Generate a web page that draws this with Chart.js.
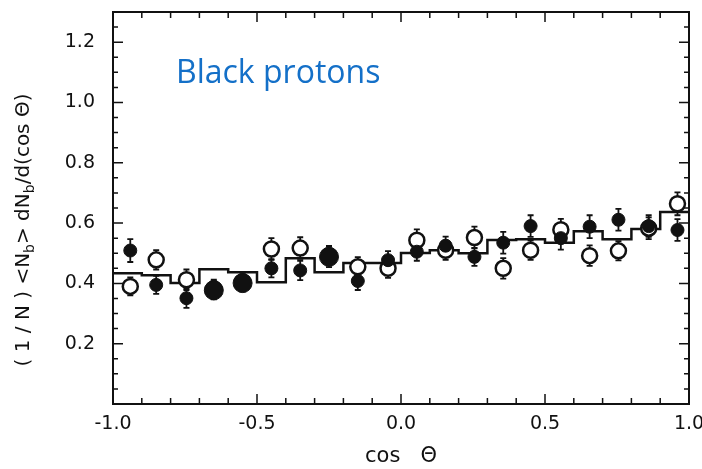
<!DOCTYPE html>
<html>
<head>
<meta charset="utf-8">
<script src="https://cdn.jsdelivr.net/npm/chart.js@4/dist/chart.umd.min.js"></script>
<style>
  html, body { margin: 0; padding: 0; background: #fff; }
  #wrap { width: 702px; height: 469px; }
</style>
</head>
<body>
<div id="wrap"><canvas id="chart" width="702" height="469"></canvas></div>
<script>
// ---- data ----
const cosTheta   = [-0.94, -0.85, -0.745, -0.65, -0.55, -0.45, -0.35, -0.25, -0.15, -0.045,
                     0.055, 0.155, 0.255, 0.355, 0.45, 0.555, 0.655, 0.755, 0.86, 0.96];
const filledVals = [0.509, 0.395, 0.351, 0.377, 0.401, 0.450, 0.443, 0.488, 0.408, 0.477,
                    0.505, 0.525, 0.488, 0.535, 0.590, 0.550, 0.588, 0.611, 0.590, 0.577];
const filledErr  = [0.038, 0.030, 0.032, 0.030, 0.028, 0.030, 0.032, 0.034, 0.030, 0.030,
                    0.030, 0.030, 0.030, 0.036, 0.036, 0.038, 0.038, 0.036, 0.036, 0.036];
const openVals   = [0.390, 0.478, 0.412, 0.382, 0.405, 0.514, 0.517, 0.492, 0.455, 0.450,
                    0.543, 0.510, 0.552, 0.450, 0.510, 0.578, 0.492, 0.508, 0.583, 0.664];
const openErr    = [0.030, 0.032, 0.034, 0.030, 0.030, 0.036, 0.036, 0.032, 0.032, 0.032,
                    0.036, 0.032, 0.036, 0.034, 0.032, 0.036, 0.034, 0.032, 0.036, 0.038];
const binEdges   = [-1.0, -0.9, -0.8, -0.7, -0.6, -0.5, -0.4, -0.3, -0.2, -0.1, 0.0,
                     0.1, 0.2, 0.3, 0.4, 0.5, 0.6, 0.7, 0.8, 0.9, 1.0];
const stepVals   = [0.434, 0.427, 0.401, 0.447, 0.437, 0.404, 0.483, 0.437, 0.468, 0.468,
                    0.501, 0.510, 0.500, 0.544, 0.546, 0.535, 0.573, 0.546, 0.580, 0.637];
const bigDots    = [3, 4, 7];   // points where filled and open markers overlap

const AXIS_FONT = '"DejaVu Sans", sans-serif';
const INK = '#111';

// error bars, frame, inward ticks and the rotated y title
const decor = {
    id: 'decor',
    beforeDatasetsDraw(chart) {
        const { ctx, scales: { x, y } } = chart;
        ctx.save();
        ctx.strokeStyle = INK;
        ctx.lineWidth = 1.8;
        const bars = (vals, errs) => vals.forEach((v, i) => {
            const px = x.getPixelForValue(cosTheta[i]);
            const lo = y.getPixelForValue(v - errs[i]);
            const hi = y.getPixelForValue(v + errs[i]);
            ctx.beginPath();
            ctx.moveTo(px, lo); ctx.lineTo(px, hi);
            ctx.moveTo(px - 3, lo); ctx.lineTo(px + 3, lo);
            ctx.moveTo(px - 3, hi); ctx.lineTo(px + 3, hi);
            ctx.stroke();
        });
        bars(openVals, openErr);
        bars(filledVals, filledErr);
        ctx.restore();
    },
    afterDraw(chart) {
        const { ctx, chartArea: a, scales: { x, y } } = chart;
        ctx.save();
        ctx.strokeStyle = INK;
        ctx.lineWidth = 2;
        ctx.strokeRect(a.left, a.top, a.right - a.left, a.bottom - a.top);
        ctx.lineWidth = 1.5;
        ctx.beginPath();
        for (let k = -10; k <= 10; k++) {
            const px = x.getPixelForValue(k / 10);
            const len = k % 5 === 0 ? 10 : 6;
            ctx.moveTo(px, a.bottom); ctx.lineTo(px, a.bottom - len);
            ctx.moveTo(px, a.top); ctx.lineTo(px, a.top + len);
        }
        for (let k = 1; k <= 26; k++) {
            const py = y.getPixelForValue(k / 20);
            const len = k % 4 === 0 ? 10 : 5;
            ctx.moveTo(a.left, py); ctx.lineTo(a.left + len, py);
            ctx.moveTo(a.right, py); ctx.lineTo(a.right - len, py);
        }
        ctx.stroke();

        // y axis title with subscripts
        const parts = [['( 1 / N ) <N', 0], ['b', 1], ['> dN', 0], ['b', 1], ['/d(cos Θ)', 0]];
        const big = '20px ' + AXIS_FONT, small = '14px ' + AXIS_FONT;
        let total = 0;
        parts.forEach(p => { ctx.font = p[1] ? small : big; total += ctx.measureText(p[0]).width; });
        ctx.translate(24, 230);
        ctx.rotate(-Math.PI / 2);
        ctx.fillStyle = INK;
        ctx.textBaseline = 'middle';
        let cx = -total / 2;
        parts.forEach(p => {
            ctx.font = p[1] ? small : big;
            ctx.fillText(p[0], cx, p[1] ? 6 : 0);
            cx += ctx.measureText(p[0]).width;
        });
        ctx.restore();

        // label in the plot
        ctx.save();
        ctx.font = '32px "Open Sans", "Noto Sans", sans-serif';
        ctx.fillStyle = '#1470c8';
        ctx.textBaseline = 'alphabetic';
        ctx.fillText('Black protons', 176, 83);
        ctx.restore();
    }
};

new Chart(document.getElementById('chart'), {
    type: 'scatter',
    data: {
        datasets: [
            {
                type: 'line',
                data: binEdges.map((e, i) => ({ x: e, y: stepVals[Math.min(i, stepVals.length - 1)] })),
                stepped: 'before',
                borderColor: INK,
                borderWidth: 2.5,
                pointRadius: 0,
                fill: false,
                order: 3
            },
            {
                data: cosTheta.map((c, i) => ({ x: c, y: openVals[i] })),
                pointRadius: 7.5,
                pointBorderWidth: 2.5,
                pointBackgroundColor: '#fff',
                pointBorderColor: INK,
                order: 2
            },
            {
                data: cosTheta.map((c, i) => ({ x: c, y: filledVals[i] })),
                pointRadius: ctx => bigDots.includes(ctx.dataIndex) ? 9.5 : 6.5,
                pointBorderWidth: 1,
                pointBackgroundColor: INK,
                pointBorderColor: INK,
                order: 1
            }
        ]
    },
    options: {
        responsive: false,
        animation: false,
        layout: { padding: { left: 0, right: 13, top: 12, bottom: 0 } },
        plugins: { legend: { display: false }, tooltip: { enabled: false } },
        scales: {
            x: {
                type: 'linear', min: -1, max: 1,
                grid: { display: false, drawTicks: false },
                border: { display: false },
                ticks: {
                    stepSize: 0.5, padding: 9, color: INK, maxRotation: 0,
                    font: { family: AXIS_FONT, size: 19 },
                    callback: v => v.toFixed(1)
                },
                title: {
                    display: true, text: 'cos   Θ', color: INK,
                    font: { family: AXIS_FONT, size: 21 }, padding: { top: 6, bottom: 0 }
                },
                afterFit: s => { s.height = 65; s.paddingLeft = 0; s.paddingRight = 0; }
            },
            y: {
                min: 0, max: 1.3,
                grid: { display: false, drawTicks: false },
                border: { display: false },
                ticks: {
                    stepSize: 0.2, padding: 18, color: INK,
                    font: { family: AXIS_FONT, size: 19 },
                    callback: v => (v > 0.1 && v < 1.25) ? v.toFixed(1) : ''
                },
                afterFit: s => { s.width = 113; s.paddingTop = 0; s.paddingBottom = 0; }
            }
        }
    },
    plugins: [decor]
});
</script>
</body>
</html>
